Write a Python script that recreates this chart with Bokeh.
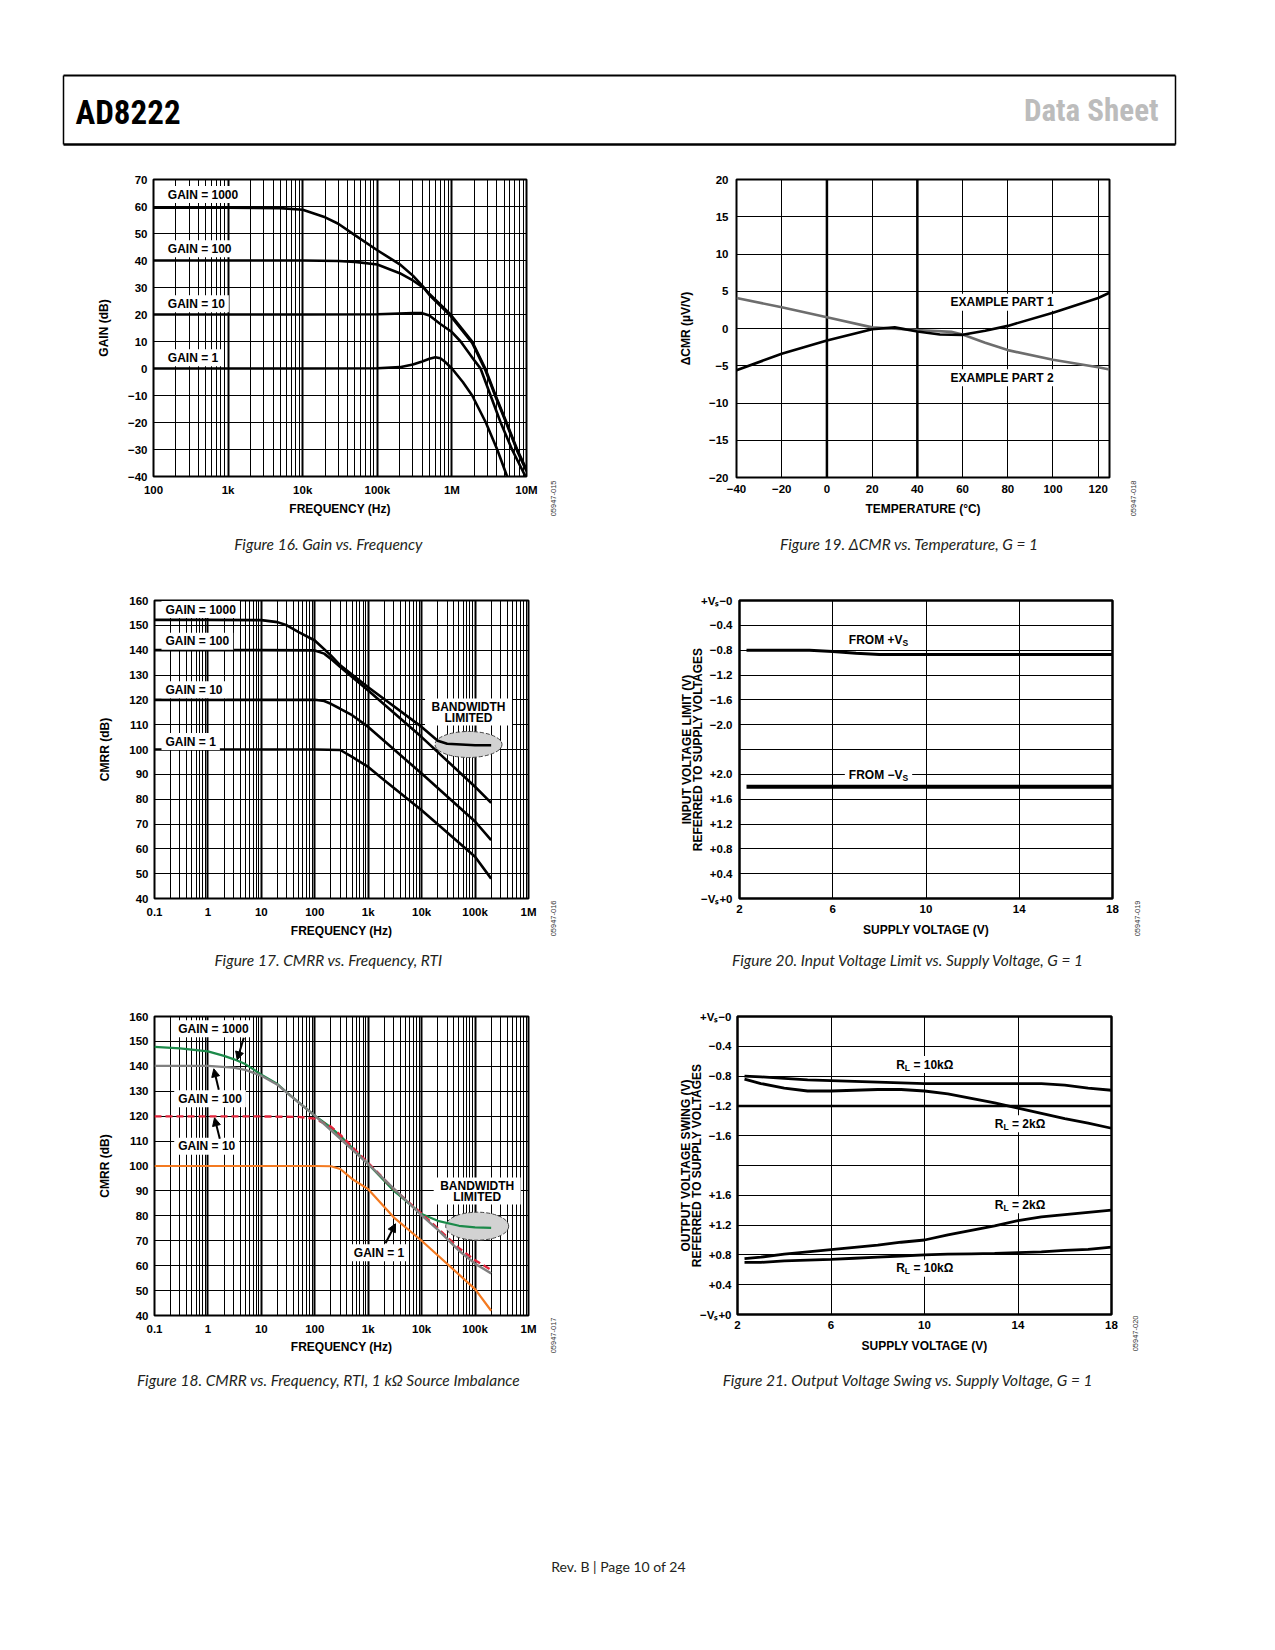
import math
from bokeh.plotting import figure
from bokeh.layouts import column, row
from bokeh.models import Label, Arrow, NormalHead, FixedTicker, Span, Range1d, LinearAxis, LogAxis
from bokeh.embed import file_html
from bokeh.resources import INLINE

# ======================= DATA =======================
# Figure 16. Gain vs. Frequency
f16_freq_g1000 = [100, 1000, 5000, 10000, 20000, 30000, 50000, 100000, 200000, 300000, 420000, 500000, 960000, 1870000, 2800000, 3850000, 5400000, 7500000, 10000000]
f16_db_g1000 = [59.6, 59.6, 59.4, 58.8, 56.0, 53.6, 49.4, 43.8, 38.6, 34.4, 30.0, 27.6, 20.0, 10.0, 0.0, -10.0, -20.0, -30.0, -37.4]
f16_freq_g100 = [100, 1000, 10000, 30000, 50000, 100000, 200000, 300000, 420000, 500000, 960000, 1870000, 2800000, 3850000, 5400000, 7500000, 10000000]
f16_db_g100 = [40.0, 40.0, 40.0, 39.8, 39.5, 38.5, 35.3, 32.6, 29.8, 27.2, 19.5, 9.5, -0.5, -10.5, -20.5, -30.5, -38.0]
f16_freq_g10 = [100, 1000, 10000, 100000, 300000, 400000, 500000, 700000, 1000000, 1310000, 2000000, 2420000, 3300000, 4500000, 6400000, 9700000]
f16_db_g10 = [20.0, 20.0, 20.0, 20.1, 20.5, 20.5, 19.6, 16.5, 13.5, 10.0, 3.0, 0.0, -10.0, -20.0, -30.0, -40.0]
f16_freq_g1 = [100, 1000, 10000, 100000, 200000, 300000, 400000, 500000, 600000, 700000, 800000, 1000000, 1400000, 1870000, 2850000, 4050000, 5500000]
f16_db_g1 = [0.0, 0.0, 0.0, 0.1, 0.5, 1.5, 2.6, 3.6, 4.2, 3.8, 2.6, 0.0, -5.0, -10.0, -20.0, -30.0, -40.0]
f16_xticks = [100, 1000, 10000, 100000, 1000000, 10000000]
f16_xlabels = ["100", "1k", "10k", "100k", "1M", "10M"]
f16_yticks = [-40, -30, -20, -10, 0, 10, 20, 30, 40, 50, 60, 70]
gain_labels = ["GAIN = 1000", "GAIN = 100", "GAIN = 10", "GAIN = 1"]

# Figure 19. dCMR vs. Temperature
f19_temp1 = [-40, -20, 0, 20, 30, 40, 50, 60, 70, 80, 100, 120, 125]
f19_part1 = [-5.6, -3.4, -1.6, -0.1, 0.15, -0.4, -0.8, -0.85, -0.3, 0.35, 2.1, 4.1, 4.8]
f19_temp2 = [-40, -20, 0, 20, 40, 55, 60, 70, 80, 100, 120, 125]
f19_part2 = [4.1, 2.85, 1.5, 0.15, -0.2, -0.45, -0.8, -1.9, -2.9, -4.2, -5.2, -5.5]
f19_xticks = [-40, -20, 0, 20, 40, 60, 80, 100, 120]
f19_yticks = [-20, -15, -10, -5, 0, 5, 10, 15, 20]
f19_thick = [0, 40]

# Figure 17. CMRR vs. Frequency, RTI
f17_freq_g1000 = [0.1, 1, 10, 20, 30, 50, 100, 200, 300, 1000, 10000, 20000, 30000, 100000, 200000]
f17_db_g1000 = [152.2, 152.2, 152.1, 151.3, 150.0, 147.3, 143.9, 137.9, 133.9, 125.1, 109.1, 103.5, 102.3, 101.7, 101.7]
f17_freq_g100 = [0.1, 1, 10, 100, 150, 200, 300, 500, 1000, 10000, 100000, 200000]
f17_db_g100 = [140.0, 140.0, 140.0, 139.9, 138.6, 136.5, 133.2, 129.2, 123.8, 105.0, 85.0, 78.5]
f17_freq_g10 = [0.1, 1, 10, 100, 150, 200, 300, 500, 1000, 10000, 100000, 200000]
f17_db_g10 = [120.0, 120.0, 120.0, 120.0, 119.5, 118.4, 116.4, 113.8, 109.1, 90.3, 71.0, 63.5]
f17_freq_g1 = [0.1, 1, 10, 100, 300, 500, 1000, 2000, 10000, 100000, 200000]
f17_db_g1 = [100.0, 100.0, 100.0, 100.0, 99.8, 97.0, 93.0, 87.6, 75.5, 56.8, 48.0]
cm_xticks = [0.1, 1, 10, 100, 1000, 10000, 100000, 1000000]
cm_xlabels = ["0.1", "1", "10", "100", "1k", "10k", "100k", "1M"]
cm_yticks = [40, 50, 60, 70, 80, 90, 100, 110, 120, 130, 140, 150, 160]

# Figure 18. CMRR vs. Frequency, RTI, 1 kOhm source imbalance
f18_freq_g1000 = [0.1, 0.3, 1, 2, 3, 5, 7, 10, 20, 30, 50, 100, 200, 300, 1000, 3000, 10000, 20000, 50000, 100000, 200000]
f18_db_g1000 = [147.8, 147.2, 146.0, 144.2, 142.9, 140.9, 138.9, 136.6, 132.9, 129.5, 125.5, 120.2, 115.5, 112.1, 100.8, 90.1, 80.7, 78.0, 76.0, 75.4, 75.2]
f18_freq_g100 = [0.1, 1, 3, 5, 10, 20, 50, 100, 1000, 10000, 20000, 50000, 100000, 200000]
f18_db_g100 = [140.2, 140.2, 139.5, 138.6, 136.2, 132.6, 125.5, 120.2, 100.8, 80.2, 74.5, 66.0, 60.8, 56.9]
f18_freq_g10 = [0.1, 1, 10, 50, 100, 200, 300, 1000, 3000, 10000, 20000, 50000, 100000, 200000]
f18_db_g10 = [119.9, 119.9, 119.9, 119.7, 119.0, 115.8, 112.5, 101.2, 90.8, 80.8, 75.0, 67.0, 62.2, 58.3]
f18_freq_g1 = [0.1, 1, 10, 100, 200, 300, 500, 1000, 3000, 10000, 100000, 200000]
f18_db_g1 = [100.0, 100.0, 100.0, 100.0, 99.9, 98.8, 94.8, 90.7, 79.4, 70.0, 50.6, 41.9]

# Figure 20. Input Voltage Limit vs. Supply Voltage
f20_vs_pos = [2.3, 5.0, 6.0, 7.0, 8.0, 18.0]
f20_lim_pos = [-0.80, -0.80, -0.82, -0.85, -0.87, -0.87]
f20_vs_neg = [2.3, 18.0]
f20_lim_neg = [1.8, 1.8]
VS_TOP = "+V\u209b\u22120"
VS_BOT = "\u2212V\u209b+0"
f20_ytick_text = [VS_BOT, "+0.4", "+0.8", "+1.2", "+1.6", "+2.0", "", "\u22122.0", "\u22121.6", "\u22121.2", "\u22120.8", "\u22120.4", VS_TOP]

# Figure 21. Output Voltage Swing vs. Supply Voltage
f21_vs = [2.3, 3, 4, 5, 6, 7, 8, 9, 10, 11, 12, 13, 14, 15, 16, 17, 18]
f21_top_10k = [-0.80, -0.81, -0.83, -0.85, -0.86, -0.87, -0.88, -0.89, -0.90, -0.90, -0.90, -0.90, -0.90, -0.90, -0.92, -0.96, -0.99]
f21_top_2k = [-0.84, -0.90, -0.96, -1.00, -1.00, -0.99, -0.98, -0.98, -1.00, -1.04, -1.10, -1.16, -1.23, -1.30, -1.37, -1.43, -1.50]
f21_bot_2k = [0.75, 0.77, 0.81, 0.84, 0.87, 0.90, 0.93, 0.97, 1.00, 1.07, 1.13, 1.19, 1.26, 1.31, 1.34, 1.37, 1.40]
f21_bot_10k = [0.70, 0.70, 0.72, 0.73, 0.74, 0.755, 0.77, 0.785, 0.80, 0.81, 0.815, 0.82, 0.83, 0.84, 0.86, 0.875, 0.905]
f21_ytick_text = [VS_BOT, "+0.4", "+0.8", "+1.2", "+1.6", "", "\u22121.6", "\u22121.2", "\u22120.8", "\u22120.4", VS_TOP]
vs_xticks = [2, 6, 10, 14, 18]

# ======================= HELPERS =======================
BOLD = "Liberation Sans"
CAP = "Lato"
COND = "'Roboto Condensed', 'DejaVu Sans Condensed', 'Liberation Sans Narrow', 'Noto Sans Condensed', Roboto"
MINUS = "\u2212"
AW = {' ': .278, '(': .333, ')': .333, '+': .584, '-': .333, '.': .278, '/': .278, '=': .584,
      '\u2212': .584, '\u00b0': .4, '\u03a9': .77, 'k': .556, 'z': .5, '\u00b5': .576, '\u0394': .668}
for c in "0123456789":
    AW[c] = .556
AW.update({'A': .722, 'B': .722, 'C': .722, 'D': .722, 'E': .667, 'F': .611, 'G': .778, 'H': .722,
           'I': .278, 'J': .556, 'K': .722, 'L': .611, 'M': .833, 'N': .722, 'O': .778, 'P': .667,
           'Q': .778, 'R': .722, 'S': .667, 'T': .611, 'U': .722, 'V': .667, 'W': .944, 'X': .667,
           'Y': .667, 'Z': .611})


def tw(s, size):
    return sum(AW.get(ch, 0.6) for ch in s) * size


def mfmt(v):
    return ("%g" % v).replace("-", MINUS)


def plain_axis(ax):
    ax.axis_line_color = None
    ax.major_tick_line_color = None
    ax.minor_tick_line_color = None
    ax.major_tick_out = 0
    ax.major_tick_in = 0
    ax.minor_tick_out = 0
    ax.minor_tick_in = 0


class Chart:
    def __init__(self, fig_x0, fig_y0, fig_w, fig_h, fx0, fy0, fw, fh, xr, yr, xlog, frame_lw=2):
        self.fig_y0, self.fig_h = fig_y0, fig_h
        self.fx0, self.fy0, self.fw, self.fh = fx0, fy0, fw, fh
        self.xr, self.yr, self.xlog = xr, yr, xlog
        p = figure(frame_width=fw, frame_height=fh,
                   min_border_left=fx0 - fig_x0, min_border_top=fy0 - fig_y0,
                   min_border_right=fig_x0 + fig_w - fx0 - fw,
                   min_border_bottom=fig_y0 + fig_h - fy0 - fh,
                   x_axis_type="log" if xlog else "linear",
                   x_range=Range1d(*xr), y_range=Range1d(*yr),
                   output_backend="svg", toolbar_location=None,
                   background_fill_color="white", border_fill_color="white",
                   outline_line_color="black", outline_line_width=frame_lw)
        for ax in (p.xaxis[0], p.yaxis[0]):
            plain_axis(ax)
            ax.major_label_text_font = BOLD
            ax.major_label_text_font_style = "bold"
            ax.major_label_text_font_size = "11.5px"
            ax.major_label_text_color = "black"
            ax.axis_label_text_font = BOLD
            ax.axis_label_text_font_style = "bold"
            ax.axis_label_text_font_size = "12px"
            ax.axis_label_text_color = "black"
        for g in (p.xgrid[0], p.ygrid[0]):
            g.grid_line_color = "black"
            g.grid_line_width = 1
            g.grid_line_alpha = 1
        self.p = p

    def dx(self, X):
        f = (X - self.fx0) / self.fw
        a, b = self.xr
        if self.xlog:
            return 10 ** (math.log10(a) + f * (math.log10(b) - math.log10(a)))
        return a + f * (b - a)

    def dy(self, Y):
        f = (Y - self.fy0) / self.fh
        a, b = self.yr
        return b - f * (b - a)

    def ticks(self, xt, xl, yt, yl, xminor=None, xstand=7, ystand=6):
        p = self.p
        tx = FixedTicker(ticks=xt, minor_ticks=xminor or [])
        ty = FixedTicker(ticks=yt)
        p.xaxis[0].ticker = tx
        p.xgrid[0].ticker = tx
        p.yaxis[0].ticker = ty
        p.ygrid[0].ticker = ty
        p.xaxis[0].major_label_overrides = {k: v for k, v in zip(xt, xl)}
        p.yaxis[0].major_label_overrides = {k: v for k, v in zip(yt, yl)}
        p.xaxis[0].major_label_standoff = xstand
        p.yaxis[0].major_label_standoff = ystand
        if xminor:
            p.xgrid[0].minor_grid_line_color = "black"
            p.xgrid[0].minor_grid_line_width = 1
            p.xgrid[0].grid_line_width = 2

    def titles(self, xlab, xstand, ylab, ystand, ylh=1.0):
        self.p.xaxis[0].axis_label = xlab
        self.p.xaxis[0].axis_label_standoff = xstand
        self.p.yaxis[0].axis_label = ylab
        self.p.yaxis[0].axis_label_standoff = ystand
        self.p.yaxis[0].axis_label_text_line_height = ylh

    def caption(self, text, Xc, standoff):
        xc = float("%.5g" % self.dx(Xc))
        ax = (LogAxis if self.xlog else LinearAxis)(ticker=FixedTicker(ticks=[xc]))
        plain_axis(ax)
        ax.major_label_overrides = {xc: text}
        ax.major_label_standoff = standoff
        ax.major_label_text_font = CAP
        ax.major_label_text_font_style = "italic"
        ax.major_label_text_font_size = "15.5px"
        ax.major_label_text_color = "#231f20"
        self.p.add_layout(ax, "below")

    def label(self, X, Y, text, size=12, align="left"):
        self.p.add_layout(Label(x=self.dx(X), y=self.dy(Y), text=text, text_font=BOLD,
                                text_font_size="%gpx" % size, text_font_style="bold",
                                text_align=align, text_baseline="middle", text_color="black"))

    def box(self, Xc, Yc, w, h):
        self.p.rect(x=[self.dx(Xc)], y=[self.dy(Yc)], width=[w], height=[h],
                    width_units="screen", height_units="screen",
                    fill_color="white", line_color=None)

    def tag(self, Xl, Y, text, size=12, pad=4):
        w = tw(text, size)
        self.box(Xl + w / 2, Y, w + 2 * pad, size + 5)
        self.label(Xl, Y, text, size)

    def compose(self, X, Y, parts, align="left", bg=False, pad=4):
        total = sum(tw(t, s) for t, s, d in parts)
        x = X - total if align == "right" else (X - total / 2 if align == "center" else X)
        if bg:
            self.box(x + total / 2, Y, total + 2 * pad, 17)
        for t, s, d in parts:
            lead = len(t) - len(t.lstrip(" "))
            self.label(x + tw(" " * lead, s), Y + d, t.lstrip(" "), s)
            x += tw(t, s)


def id_fig(x0, w, chart, X, standoff, text):
    # narrow companion figure, its frame aligned with the chart frame;
    # the rotated figure number is the single tick label of its bottom axis
    y0, h, fy0, fh = chart.fig_y0, chart.fig_h, chart.fy0, chart.fh
    f = figure(frame_width=w, frame_height=fh, min_border_left=0, min_border_right=0,
               min_border_top=fy0 - y0, min_border_bottom=y0 + h - fy0 - fh,
               x_range=Range1d(0, w), y_range=Range1d(0, 1),
               x_axis_type=None, y_axis_type=None, output_backend="svg",
               toolbar_location=None, outline_line_color=None,
               background_fill_color="white", border_fill_color="white")
    tick = int(round(X - x0))
    ax = LinearAxis(ticker=FixedTicker(ticks=[tick]))
    plain_axis(ax)
    ax.major_label_overrides = {tick: text}
    ax.major_label_orientation = math.pi / 2
    ax.major_label_standoff = standoff
    ax.major_label_text_font = BOLD
    ax.major_label_text_font_size = "7.5px"
    ax.major_label_text_font_style = "normal"
    ax.major_label_text_color = "#333333"
    f.add_layout(ax, "below")
    return f


def decade_minors(lo_exp, hi_exp):
    out = []
    for e in range(lo_exp, hi_exp):
        for m in range(2, 10):
            out.append(m * 10.0 ** e)
    return out


# ======================= HEADER =======================
hdr = figure(frame_width=1267, frame_height=160, min_border=0,
             x_range=Range1d(0, 1267), y_range=Range1d(160, 0),
             x_axis_type=None, y_axis_type=None, output_backend="svg",
             toolbar_location=None, outline_line_color=None)
hdr.segment(x0=[63, 63, 63, 1175], y0=[75, 144, 75, 75], x1=[1175, 1175, 63, 1175],
            y1=[75, 144, 144, 144], line_width=[2, 2.5, 1.5, 1.5], line_color="black")
hdr.add_layout(Label(x=75, y=111.5, text="AD8222", text_font=COND,
                     text_font_style="bold", text_font_size="33px",
                     text_baseline="middle", text_align="left", text_color="black"))
hdr.add_layout(Label(x=1158, y=110, text="Data Sheet", text_font=COND,
                     text_font_style="bold", text_font_size="31px",
                     text_baseline="middle", text_align="right", text_color="#bcbcbc"))

# ======================= FIGURE 16 =======================
c16 = Chart(0, 160, 540, 412, 153, 179, 373, 297, (100, 1e7), (-40, 70), True)
c16.ticks(f16_xticks, f16_xlabels, f16_yticks, [mfmt(v) for v in f16_yticks],
          xminor=decade_minors(2, 7), xstand=7, ystand=6)
p = c16.p
for fx, fy in [(f16_freq_g1000, f16_db_g1000), (f16_freq_g100, f16_db_g100),
               (f16_freq_g10, f16_db_g10), (f16_freq_g1, f16_db_g1)]:
    p.line(fx, fy, line_color="black", line_width=2.6)
for t, Y in zip(gain_labels, [194, 248.3, 303.3, 357.3]):
    c16.tag(167.3, Y, t)
c16.titles("FREQUENCY (Hz)", 3, "GAIN (dB)", 14)
c16.caption("Figure 16. Gain vs. Frequency", 328, 16)
id16 = id_fig(540, 80, c16, 553, 4, "05947-015")

# ======================= FIGURE 19 =======================
c19 = Chart(620, 160, 500, 412, 736, 179, 373, 298, (-40, 125), (-20, 20), False)
c19.ticks(f19_xticks, [mfmt(v) for v in f19_xticks], f19_yticks,
          [mfmt(v) for v in f19_yticks], xstand=7, ystand=8)
p = c19.p
for loc in f19_thick:
    p.add_layout(Span(location=loc, dimension="height", line_color="black",
                      line_width=2.5, level="underlay"))
c19.tag(950, 301.7, "EXAMPLE PART 1")
c19.tag(950, 377.3, "EXAMPLE PART 2")
p.line(f19_temp2, f19_part2, line_color="#6d6d6d", line_width=2.6)
p.line(f19_temp1, f19_part1, line_color="black", line_width=2.6)
c19.titles("TEMPERATURE (\u00b0C)", 6, "\u0394CMR (\u00b5V/V)", 13)
c19.caption("Figure 19. \u0394CMR vs. Temperature, G = 1", 909, 16)
id19 = id_fig(1120, 147, c19, 1133, 3, "05947-018")

# ======================= FIGURE 17 =======================
c17 = Chart(0, 572, 540, 416, 154, 600, 374, 298, (0.1, 1e6), (40, 160), True)
c17.ticks(cm_xticks, cm_xlabels, cm_yticks, [str(v) for v in cm_yticks],
          xminor=decade_minors(-1, 6), xstand=7, ystand=6)
p = c17.p
c17.box(468, 711.5, 87, 27)
p.ellipse(x=[c17.dx(468)], y=[c17.dy(744)], width=[67], height=[26],
          width_units="screen", height_units="screen", fill_color="#d2d2d2",
          line_color="#444444", line_dash="4 2", line_width=1)
for fx, fy in [(f17_freq_g1000, f17_db_g1000), (f17_freq_g100, f17_db_g100),
               (f17_freq_g10, f17_db_g10), (f17_freq_g1, f17_db_g1)]:
    p.line(fx, fy, line_color="black", line_width=2.6)
for t, Y in zip(gain_labels, [609, 640.7, 689.3, 741]):
    c17.tag(165, Y, t)
c17.label(468, 706, "BANDWIDTH", 12, align="center")
c17.label(468, 717.7, "LIMITED", 12, align="center")
c17.titles("FREQUENCY (Hz)", 3, "CMRR (dB)", 14)
c17.caption("Figure 17. CMRR vs. Frequency, RTI", 328, 10)
id17 = id_fig(540, 80, c17, 553, 2, "05947-016")

# ======================= FIGURE 20 =======================
c20 = Chart(620, 572, 500, 416, 739, 600, 373, 298, (2, 18), (0, 12), False, frame_lw=2.5)
c20.ticks(vs_xticks, [str(v) for v in vs_xticks], list(range(13)), f20_ytick_text, xstand=6, ystand=7)
p = c20.p
pos20_top = [12 + v / 0.4 for v in f20_lim_pos]
pos20_bot = [v / 0.4 for v in f20_lim_neg]
c20.compose(878, 774, [("FROM " + MINUS + "V", 12, 0), ("S", 8.5, 3)], align="center", bg=True)
p.line(f20_vs_pos, pos20_top, line_color="black", line_width=3)
p.line(f20_vs_neg, pos20_bot, line_color="black", line_width=4)
c20.compose(878, 639, [("FROM +V", 12, 0), ("S", 8.5, 3)], align="center")
c20.titles("SUPPLY VOLTAGE (V)", 7, "INPUT VOLTAGE LIMIT (V)\nREFERRED TO SUPPLY VOLTAGES", -7, ylh=0.8)
c20.caption("Figure 20. Input Voltage Limit vs. Supply Voltage, G = 1", 908, 11)
id20 = id_fig(1120, 147, c20, 1137, 2, "05947-019")

# ======================= FIGURE 18 =======================
c18 = Chart(0, 988, 540, 412, 154, 1016, 374, 299, (0.1, 1e6), (40, 160), True)
c18.ticks(cm_xticks, cm_xlabels, cm_yticks, [str(v) for v in cm_yticks],
          xminor=decade_minors(-1, 6), xstand=7, ystand=6)
p = c18.p
c18.box(476.7, 1190.5, 87, 27)
p.ellipse(x=[c18.dx(476.7)], y=[c18.dy(1225.7)], width=[63], height=[28],
          width_units="screen", height_units="screen", fill_color="#d2d2d2",
          line_color="#444444", line_dash="4 2", line_width=1)
for t, X, Y in zip(gain_labels, [177.7, 177.7, 177.7, 353.3], [1028.3, 1098.3, 1145.7, 1252.3]):
    c18.tag(X, Y, t)
p.line(f18_freq_g1, f18_db_g1, line_color="#f47a20", line_width=2.2)
p.line(f18_freq_g1000, f18_db_g1000, line_color="#1c8a4a", line_width=2.2)
p.line(f18_freq_g10, f18_db_g10, line_color="#e3243b", line_width=2.4, line_dash="7 4")
p.line(f18_freq_g100, f18_db_g100, line_color="#808080", line_width=2.4)
arrows18 = [((243.3, 1037.3), (236.7, 1059.3)), ((218.3, 1089.3), (213.3, 1068.3)),
            ((219.3, 1138.3), (214.0, 1117.3)), ((385.0, 1242.7), (395.0, 1223.3))]
for (X0, Y0), (X1, Y1) in arrows18:
    p.add_layout(Arrow(x_start=c18.dx(X0), y_start=c18.dy(Y0), x_end=c18.dx(X1), y_end=c18.dy(Y1),
                       line_width=2, line_color="black",
                       end=NormalHead(size=8, fill_color="black", line_color="black")))
c18.label(476.7, 1185, "BANDWIDTH", 12, align="center")
c18.label(476.7, 1196.7, "LIMITED", 12, align="center")
c18.titles("FREQUENCY (Hz)", 2, "CMRR (dB)", 14)
c18.caption("Figure 18. CMRR vs. Frequency, RTI, 1 k\u03a9 Source Imbalance", 328, 14)
id18 = id_fig(540, 80, c18, 553, 2, "05947-017")

# ======================= FIGURE 21 =======================
c21 = Chart(620, 988, 500, 412, 737, 1016, 374, 298, (2, 18), (0, 10), False, frame_lw=2.5)
c21.ticks(vs_xticks, [str(v) for v in vs_xticks], list(range(11)), f21_ytick_text, xstand=6, ystand=6)
p = c21.p
p.add_layout(Span(location=7, dimension="width", line_color="black", line_width=2.5, level="underlay"))
rl_parts_10 = [("R", 12, 0), ("L", 8.5, 3), (" = 10k\u03a9", 12, 0)]
rl_parts_2 = [("R", 12, 0), ("L", 8.5, 3), (" = 2k\u03a9", 12, 0)]
c21.compose(895.7, 1064, rl_parts_10, bg=True)
c21.compose(994.3, 1123.3, rl_parts_2, bg=True)
c21.compose(994.3, 1204.3, rl_parts_2, bg=True)
c21.compose(895.7, 1267.7, rl_parts_10, bg=True)
for vals, top in [(f21_top_10k, True), (f21_top_2k, True), (f21_bot_2k, False), (f21_bot_10k, False)]:
    pos = [(10 + v / 0.4) if top else (v / 0.4) for v in vals]
    p.line(f21_vs, pos, line_color="black", line_width=2.8)
c21.titles("SUPPLY VOLTAGE (V)", 7, "OUTPUT VOLTAGE SWING (V)\nREFERRED TO SUPPLY VOLTAGES", -7, ylh=0.8)
c21.caption("Figure 21. Output Voltage Swing vs. Supply Voltage, G = 1", 908, 15)
id21 = id_fig(1120, 147, c21, 1135, 1, "05947-020")

# ======================= FOOTER =======================
ftr = figure(frame_width=1267, frame_height=200, min_border=0,
             x_range=Range1d(0, 1267), y_range=Range1d(1600, 1400),
             x_axis_type=None, y_axis_type=None, output_backend="svg",
             toolbar_location=None, outline_line_color=None)
ftr.add_layout(Label(x=618, y=1566, text="Rev. B | Page 10 of 24", text_font=CAP,
                     text_font_size="14px", text_align="center", text_baseline="middle",
                     text_color="#231f20"))

layout = column(hdr,
                row(c16.p, id16, c19.p, id19),
                row(c17.p, id17, c20.p, id20),
                row(c18.p, id18, c21.p, id21),
                ftr)
open("out.html", "w").write(file_html(layout, INLINE))
